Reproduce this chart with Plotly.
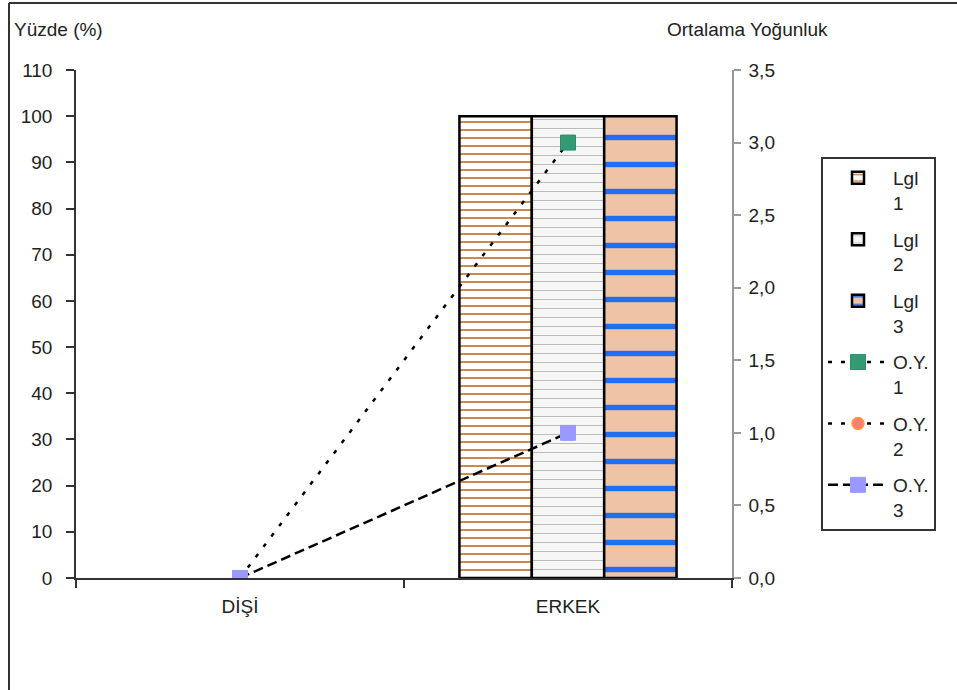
import plotly.graph_objects as go

categories = ["DİŞİ", "ERKEK"]
lgl1 = [0, 100]
lgl2 = [0, 100]
lgl3 = [0, 100]
oy1 = [0, 3.0]
oy2 = [0, None]
oy3 = [0, 1.0]
left_ticks = [0, 10, 20, 30, 40, 50, 60, 70, 80, 90, 100, 110]
right_ticks = [0, 0.5, 1.0, 1.5, 2.0, 2.5, 3.0, 3.5]

FONT = "Liberation Sans, Arial, sans-serif"
FS = 19


def hide_zero(vals):
    # zero-height bars are not drawn (no outline on the axis)
    return [v if v else None for v in vals]


fig = go.Figure()

fig.add_trace(go.Bar(
    x=categories, y=hide_zero(lgl1), name="Lgl<br>1", legendgroup="a",
    marker=dict(color="white", line=dict(color="black", width=2.5),
                pattern=dict(shape="-", fgcolor="#c87a30", bgcolor="white",
                             fgopacity=1, size=8, solidity=0.22)),
))
fig.add_trace(go.Bar(
    x=categories, y=hide_zero(lgl2), name="Lgl<br>2", legendgroup="b",
    marker=dict(color="#f4f4f4", line=dict(color="black", width=2.5),
                pattern=dict(shape="-", fgcolor="#b4b4b4", bgcolor="#f6f6f6",
                             fgopacity=1, size=9, solidity=0.1)),
))
fig.add_trace(go.Bar(
    x=categories, y=hide_zero(lgl3), name="Lgl<br>3", legendgroup="c",
    marker=dict(color="#f0c4a4", line=dict(color="black", width=2.5),
                pattern=dict(shape="-", fgcolor="#1f6ff0", bgcolor="#efc3a6",
                             fgopacity=1, size=27, solidity=0.2)),
))

fig.add_trace(go.Scatter(
    x=categories, y=oy1, name="O.Y.<br>1", yaxis="y2", legendgroup="d",
    mode="lines+markers",
    line=dict(color="black", width=2.5, dash="4px,9px"),
    marker=dict(symbol="square", size=15, color="#339a74",
                line=dict(color="#2e8c68", width=1)),
))
fig.add_trace(go.Scatter(
    x=categories, y=oy2, name="O.Y.<br>2", yaxis="y2", legendgroup="e",
    mode="lines+markers",
    line=dict(color="black", width=2.5, dash="4px,9px"),
    marker=dict(symbol="circle", size=12, color="#ff8070",
                line=dict(color="#ff9a40", width=1.5)),
))
fig.add_trace(go.Scatter(
    x=categories, y=oy3, name="O.Y.<br>3", yaxis="y2", legendgroup="f",
    mode="lines+markers",
    line=dict(color="black", width=2.5, dash="10px,5px"),
    marker=dict(symbol="square", size=15, color="#9999ff",
                line=dict(color="#9999ff", width=1)),
))

# outer chart frame (top and left edges visible)
fx = lambda px: (px - 76) / 656
fy = lambda py: (578 - py) / 508
frame_shapes = [
    dict(type="line", xref="paper", yref="paper", x0=fx(9), x1=fx(1000),
         y0=fy(3), y1=fy(3), line=dict(color="#333333", width=2)),
    dict(type="line", xref="paper", yref="paper", x0=fx(9), x1=fx(9),
         y0=fy(3), y1=fy(760), line=dict(color="#333333", width=2)),
]

fig.update_layout(
    width=957, height=690,
    margin=dict(l=76, r=225, t=70, b=112),
    paper_bgcolor="white", plot_bgcolor="white",
    font=dict(family=FONT, size=FS, color="#222222"),
    separators=", ",
    barmode="group", bargap=0.338, bargroupgap=0,
    showlegend=True,
    legend=dict(
        x=fx(821), y=fy(157), xanchor="left", yanchor="top",
        bordercolor="#333333", borderwidth=2, bgcolor="white",
        font=dict(family=FONT, size=FS, color="#222222"),
        tracegroupgap=9, valign="top", itemwidth=60,
    ),
    xaxis=dict(
        type="category", range=[-0.5, 1.5],
        showline=True, linecolor="#333333", linewidth=1.5,
        ticks="outside", tickson="boundaries", ticklen=8, tickcolor="#333333",
        tickwidth=1.5, showgrid=False, zeroline=False,
        ticklabelstandoff=10,
    ),
    yaxis=dict(
        range=[0, 110], tickvals=left_ticks,
        showline=True, linecolor="#333333", linewidth=1.5,
        ticks="outside", ticklen=8, tickcolor="#333333", tickwidth=1.5,
        showgrid=False, zeroline=False, ticklabelstandoff=10,
    ),
    yaxis2=dict(
        range=[0, 3.5], tickvals=right_ticks, tickformat=".1f",
        overlaying="y", side="right",
        showline=True, linecolor="#999999", linewidth=1.5,
        ticks="outside", ticklen=7, tickcolor="#999999", tickwidth=1.5,
        showgrid=False, zeroline=False, ticklabelstandoff=4,
    ),
    shapes=frame_shapes,
    annotations=[
        dict(text="Yüzde (%)", xref="paper", yref="paper", x=fx(12), y=fy(30),
             xanchor="left", yanchor="middle", showarrow=False,
             font=dict(family=FONT, size=FS, color="#222222")),
        dict(text="Ortalama Yoğunluk", xref="paper", yref="paper", x=fx(665), y=fy(30),
             xanchor="left", yanchor="middle", showarrow=False,
             font=dict(family=FONT, size=FS, color="#222222")),
    ],
)

fig.write_html("out.html")
